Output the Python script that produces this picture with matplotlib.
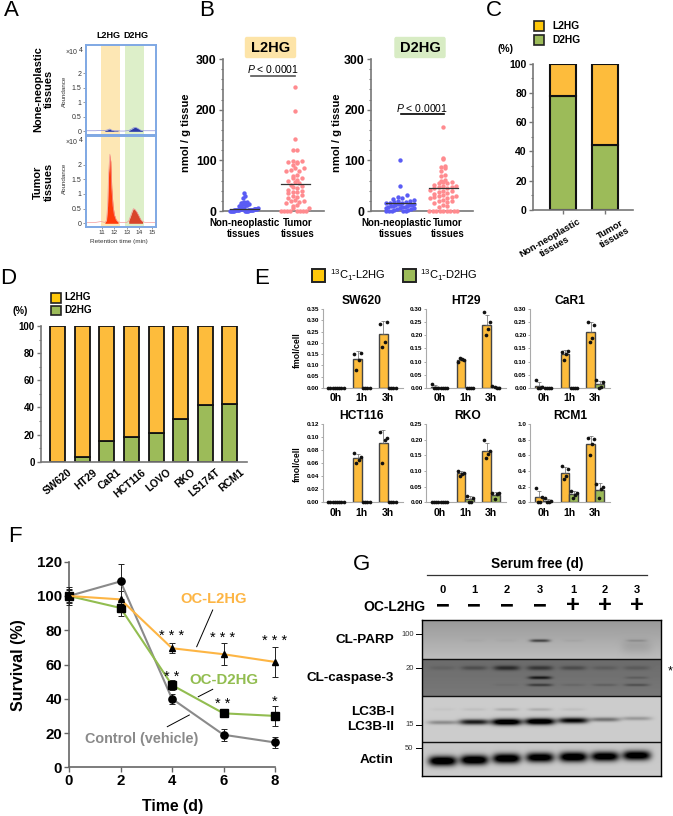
import numpy as np
import matplotlib
matplotlib.use("Agg")
import matplotlib.pyplot as plt
from matplotlib.lines import Line2D
from matplotlib.patches import Rectangle, FancyBboxPatch

plt.rcParams['font.family'] = ['Liberation Sans', 'DejaVu Sans']
plt.rcParams['mathtext.fontset'] = 'custom'
plt.rcParams['mathtext.rm'] = 'Liberation Sans'
plt.rcParams['mathtext.it'] = 'Liberation Sans:italic'
plt.rcParams['mathtext.bf'] = 'Liberation Sans:bold'

W, H = 673, 816

# A: chromatograms
rt = [9.75, 10.5, 10.95, 11.25, 11.38, 11.47, 11.55, 11.65, 11.72, 11.8, 11.9, 12.0, 12.15, 12.3, 12.5, 12.8,
      13.0, 13.15, 13.3, 13.42, 13.52, 13.65, 13.8, 13.95, 14.1, 14.25, 14.45, 15.32]
tumor_abund = [0.02, 0.03, 0.06, 0.03, 0.1, 0.6, 1.7, 2.35, 2.1, 1.2, 0.6, 0.3, 0.12, 0.05, 0.03, 0.02,
               0.03, 0.08, 0.25, 0.4, 0.5, 0.47, 0.38, 0.26, 0.13, 0.06, 0.03, 0.02]
normal_abund = [0.02, 0.02, 0.03, 0.03, 0.04, 0.05, 0.07, 0.08, 0.06, 0.04, 0.03, 0.02, 0.02, 0.02, 0.01, 0.01,
                0.02, 0.03, 0.06, 0.09, 0.12, 0.14, 0.12, 0.08, 0.04, 0.02, 0.02, 0.02]

# B: tissue concentrations
l2hg_normal = [36, 30, 25, 18, 17, 16, 15, 15, 14, 13, 13, 12, 12, 11, 10, 5, 5, 5, 4, 4, 4, 4, 3, 3, 3, 3, 3,
               2, 2, 2, 2, 2, 2, 1, 1, 1, 1, 1, 1, 0, 0, 0, 0, 0, 0, 0, 0, 0]
l2hg_tumor = [245, 198, 142, 120, 120, 98, 98, 97, 96, 95, 90, 85, 85, 80, 78, 78, 72, 70, 65, 65, 62, 60, 58,
              55, 52, 50, 48, 45, 42, 40, 38, 38, 35, 32, 30, 28, 25, 22, 20, 20, 18, 15, 12, 10, 5, 5,
              0, 0, 0, 0, 0, 0, 0, 0]
d2hg_normal = [100, 50, 32, 28, 25, 24, 22, 20, 20, 18, 17, 16, 15, 15, 14, 14, 13, 12, 12, 11, 10, 10, 9, 8, 8,
               7, 6, 5, 5, 4, 3, 2, 1, 0, 0, 0, 0, 0]
d2hg_tumor = [165, 105, 103, 88, 87, 85, 78, 72, 70, 62, 60, 58, 57, 55, 55, 52, 50, 50, 48, 47, 45, 45, 42, 40,
              40, 38, 35, 33, 32, 30, 30, 28, 27, 25, 25, 22, 20, 20, 18, 15, 12, 10, 8, 0, 0, 0, 0, 0, 0, 0, 0, 0]
l2hg_medians = [3, 54]
d2hg_medians = [15, 45]

# C: tissue share
c_groups = ['Non-neoplastic\ntissues', 'Tumor\ntissues']
c_d2hg = [78, 44.5]

# D: cell line share
d_lines = ['SW620', 'HT29', 'CaR1', 'HCT116', 'LOVO', 'RKO', 'LS174T', 'RCM1']
d_d2hg = [0, 3.5, 15.5, 18.5, 21.5, 31.5, 41.5, 42.5]

# E: labelled metabolite, four replicates per time point
hours = ['0h', '1h', '3h']
sw620_l = [[0, 0, 0, 0], [.15, .155, .125, .08], [.285, .295, .205, .18]]
sw620_d = [[0, 0, 0, 0], [0, 0, 0, 0], [0, 0, 0, 0]]
ht29_l = [[.015, 0, 0, 0], [.10, .105, .11, .115], [.288, .25, .225, .20]]
ht29_d = [[0, 0, 0, 0], [0, 0, 0, 0], [.005, 0, 0, .002]]
car1_l = [[.03, .003, 0, 0], [.135, .14, .13, .105], [.25, .24, .19, .175]]
car1_d = [[0, 0, 0, 0], [0, 0, 0, 0], [.03, .02, .002, 0]]
hct116_l = [[0, 0, 0, 0], [.075, .07, .065, .06], [.108, .098, .095, .06]]
hct116_d = [[0, 0, 0, 0], [0, 0, 0, 0], [0, 0, 0, 0]]
rko_l = [[0, 0, 0, 0], [.10, .095, .09, .085], [.20, .165, .155, .14]]
rko_d = [[0, 0, 0, 0], [.022, .015, .002, 0], [.03, .03, .028, .012]]
rcm1_l = [[.18, .07, 0, 0], [.46, .42, .34, .30], [.82, .81, .74, .61]]
rcm1_d = [[.05, .02, 0, 0], [.15, .12, .1, .06], [.23, .2, .17, .05]]

# F: survival
days = [0, 2, 4, 6, 8]
control = [100, 108.5, 40, 19, 14.5]
control_err = [5, 10, 3, 3.5, 3]
oc_l2hg = [100, 98, 69.5, 66, 61.5]
oc_l2hg_err = [4, 5, 3, 6.5, 9]
oc_d2hg = [100, 93, 48, 31.5, 30]
oc_d2hg_err = [3.5, 4.5, 3, 2, 6]

# G: band strength per lane
serum_days = ['0', '1', '2', '3', '1', '2', '3']
oc_signs = ['\u2212', '\u2212', '\u2212', '\u2212', '+', '+', '+']
parp_band = [0, .02, .02, .4, .03, 0, .1]
parp_smudge = [0, 0, 0, 0, 0, 0, .06]
casp_top = [.05, .13, .27, .22, .14, .07, .08]
casp_mid = [0, 0, 0, .35, 0, 0, .08]
casp_low = [0, 0, .03, .22, .05, .08, .14]
lc3_1 = [.03, .05, .12, .12, .05, 0, 0]
lc3_2 = [.25, .7, 1.0, 1.0, .8, .35, .2]
actin = [1, 1, 1, .95, 1, .95, .95]

ORANGE = '#fdbc3c'
YELLOW = '#ffc80a'
GREEN = '#9cbb59'
BLUE = '#5a5cf5'
PINK = '#ff8b8f'
AXGRAY = '#777777'
DARK = '#222222'

fig = plt.figure(figsize=(W / 100, H / 100), dpi=100)


def ax_px(x0, y0, x1, y1):
    return fig.add_axes([x0 / W, 1 - y1 / H, (x1 - x0) / W, (y1 - y0) / H])


def txt(x, y, s, size=8, weight='bold', color='black', ha='center', va='center', **kw):
    return fig.text(x / W, 1 - y / H, s, fontsize=size, fontweight=weight, color=color, ha=ha, va=va, **kw)


def line_px(x0, y0, x1, y1, color='black', lw=1.0):
    fig.add_artist(Line2D([x0 / W, x1 / W], [1 - y0 / H, 1 - y1 / H], color=color, lw=lw))


def box_px(x0, y0, x1, y1, face, edge=DARK, lw=1.2):
    fig.add_artist(Rectangle((x0 / W, 1 - y1 / H), (x1 - x0) / W, (y1 - y0) / H, transform=fig.transFigure,
                             facecolor=face, edgecolor=edge, lw=lw))


def clean(ax, lw=1.2, color=AXGRAY):
    ax.spines['top'].set_visible(False)
    ax.spines['right'].set_visible(False)
    ax.spines['left'].set_linewidth(lw)
    ax.spines['bottom'].set_linewidth(lw)
    ax.spines['left'].set_color(color)
    ax.spines['bottom'].set_color(color)
    ax.patch.set_alpha(0)


for s, x, y in [('A', 11, 11), ('B', 207, 10), ('C', 494, 10), ('D', 8, 278), ('E', 262, 278), ('F', 15, 536),
                ('G', 361, 565)]:
    txt(x, y, s, size=16, weight='normal')

# ---- A
for box, abund, col_l, col_d, base in [((86, 45, 156, 135), normal_abund, '#2b3aa8', '#2b3aa8', '#8c8fd8'),
                                       ((86, 136, 156, 227), tumor_abund, '#ff3b0a', '#d8452a', '#f49a9a')]:
    ax = ax_px(*box)
    ax.axvspan(10.95, 12.45, color='#fde7b4', lw=0)
    ax.axvspan(12.83, 14.35, color='#ddefc9', lw=0)
    r = np.array(rt)
    a = np.array(abund)
    ax.fill_between(r, 0, a, where=(r > 11.2) & (r < 12.5), color=col_l, lw=0)
    ax.fill_between(r, 0, a, where=(r > 13.0) & (r < 14.3), color=col_d, lw=0)
    ax.plot(r, a, color=base, lw=0.5)
    ax.set_xlim(9.75, 15.32)
    ax.set_ylim(-0.126, 2.97)
    ax.set_yticks([0, 0.5, 1, 1.5, 2])
    ax.set_yticklabels(['0', '0.5', '1', '1.5', '2'], fontsize=5, color='#333333')
    ax.set_yticks(np.arange(0, 2.8, 0.1), minor=True)
    ax.tick_params(axis='y', which='major', length=2, width=0.4, pad=1.5, color='#555555')
    ax.tick_params(axis='y', which='minor', length=1, width=0.3, color='#555555')
    for sp in ax.spines.values():
        sp.set_color('#7fa8e4')
        sp.set_linewidth(1.4)
    if box[1] > 100:
        ax.set_xticks([11, 12, 13, 14, 15])
        ax.set_xticklabels(['11', '12', '13', '14', '15'], fontsize=4.6, color='#333333')
        ax.tick_params(axis='x', length=1.5, width=0.4, pad=0.5, color='#555555')
    else:
        ax.set_xticks([])
txt(108, 36, 'L2HG', size=6.5)
txt(135.5, 36, 'D2HG', size=6.5)
txt(77, 52, '\u00d710', size=5, weight='normal', color='#333333', ha='right')
txt(81, 50, '4', size=5, weight='normal', color='#333333')
txt(77, 143, '\u00d710', size=5, weight='normal', color='#333333', ha='right')
txt(81, 141, '4', size=5, weight='normal', color='#333333')
txt(64.5, 91, 'Abundance', size=4.5, weight='normal', color='#333333', rotation=90)
txt(64.5, 178, 'Abundance', size=4.5, weight='normal', color='#333333', rotation=90)
txt(119, 241, 'Retention time (min)', size=4.6, weight='normal', color='#333333')
txt(43.5, 89, 'None-neoplastic\ntissues', size=7.9, rotation=90, linespacing=1.15)
txt(43.5, 182, 'Tumor\ntissues', size=7.9, rotation=90, linespacing=1.15)


# ---- B
def swarm(values, step_upper=4.4, bin_size=9, step=4.4, half=14):
    # rows of evenly spread points, the way the original plotting program lays them out
    vals = np.array(sorted(values), dtype=float)
    rows = np.floor((vals + bin_size / 3) / bin_size).astype(int)
    offs = np.zeros(len(vals))
    for r in np.unique(rows):
        idx = np.where(rows == r)[0]
        gap = step if r == 0 else step_upper
        w = min(half, (len(idx) - 1) * gap / 2)
        if len(idx) > 1:
            spread = np.linspace(-w, w, len(idx))
            order = np.concatenate([np.arange(0, len(idx), 2), np.arange(1, len(idx), 2)])
            offs[idx[order]] = spread
    return vals, offs


for box, cx, label_x, title, tcol, tx, normal, tumor, meds, px_line, pcol, ylab_x, gaps in [
    ((222.7, 59, 324, 211), (244, 295), (244, 297.5), 'L2HG', '#fde4a8', 270.5, l2hg_normal, l2hg_tumor, l2hg_medians,
     (251, 295, 75.7), '#555555', 186, (1.6, 4.4)),
    ((371, 59, 472.7, 211), (400, 443), (396, 448), 'D2HG', '#d8ecc4', 420, d2hg_normal, d2hg_tumor, d2hg_medians,
     (400.5, 443.5, 114), 'black', 337, (4.4, 4.4)),
]:
    ax = ax_px(*box)
    ax.set_xlim(box[0], box[2])
    ax.set_ylim(0, 300)
    for c, vals, col, m, gap in zip(cx, (normal, tumor), (BLUE, PINK), meds, gaps):
        ys, offs = swarm(vals, step_upper=gap)
        ax.scatter(c + offs, ys, s=10, color=col, lw=0, clip_on=False, zorder=3)
        ax.plot([c - 14.5, c + 14.5], [m, m], color='#333333', lw=0.9, zorder=4)
    clean(ax, 1.2)
    ax.set_xticks([])
    ax.set_yticks([0, 100, 200, 300])
    ax.set_yticks(np.arange(0, 301, 20), minor=True)
    ax.set_yticklabels(['0', '100', '200', '300'], fontsize=8.8, fontweight='bold')
    ax.tick_params(axis='y', which='major', length=3, width=1, color=AXGRAY, pad=1.5)
    ax.tick_params(axis='y', which='minor', length=1.5, width=0.8, color=AXGRAY)
    fig.add_artist(FancyBboxPatch(((tx - 25) / W, 1 - 57.5 / H), 50 / W, 20 / H, boxstyle='round,pad=0,rounding_size=0.002',
                                  transform=fig.transFigure, facecolor=tcol, edgecolor=tcol, lw=1))
    txt(tx, 48, title, size=10.5)
    line_px(px_line[0], px_line[2], px_line[1], px_line[2], color=pcol, lw=1.2)
    txt((px_line[0] + px_line[1]) / 2, px_line[2] - 6.5, r'$\mathit{P}$ < 0.0001', size=7.5, weight='normal')
    txt(ylab_x, 133, 'nmol / g tissue', size=8, rotation=90)
    txt(label_x[0], 223, 'Non-neoplastic', size=7)
    txt(label_x[0], 234, 'tissues', size=7)
    txt(label_x[1], 223, 'Tumor', size=7)
    txt(label_x[1], 234, 'tissues', size=7)

# ---- C
ax = ax_px(533, 63.5, 633, 210)
ax.set_xlim(533, 633)
ax.set_ylim(0, 100)
bar_x = [563, 605]
ax.bar(bar_x, c_d2hg, width=26, color=GREEN, edgecolor='#111111', lw=1.5)
ax.bar(bar_x, 100 - np.array(c_d2hg), bottom=c_d2hg, width=26, color=ORANGE, edgecolor='#111111', lw=1.5)
clean(ax, 1.2)
ax.set_xticks(bar_x)
ax.set_xticklabels([])
ax.set_yticks(np.arange(0, 101, 20))
ax.set_yticks(np.arange(0, 101, 10), minor=True)
ax.set_yticklabels([str(v) for v in range(0, 101, 20)], fontsize=7.5, fontweight='bold')
ax.tick_params(axis='both', which='major', length=3, width=1, color=AXGRAY, pad=1.5)
ax.tick_params(axis='y', which='minor', length=1.5, width=0.8, color=AXGRAY)
txt(577, 217, c_groups[0], size=6.8, rotation=30, ha='right', va='top', rotation_mode='anchor', multialignment='center')
txt(622, 217, c_groups[1], size=6.8, rotation=30, ha='right', va='top', rotation_mode='anchor', multialignment='center')
box_px(533.5, 20.5, 544, 31, YELLOW)
box_px(533.5, 34.5, 544, 45, GREEN)
txt(552, 26, 'L2HG', size=7.4, ha='left')
txt(552, 40, 'D2HG', size=7.4, ha='left')
txt(505, 49, '(%)', size=7.5)

# ---- D
ax = ax_px(41, 326, 246.7, 461.7)
ax.set_xlim(41, 246.7)
ax.set_ylim(0, 100)
bar_x = 57.7 + 24.6 * np.arange(len(d_lines))
ax.bar(bar_x, d_d2hg, width=15, color=GREEN, edgecolor='#111111', lw=1.3)
ax.bar(bar_x, 100 - np.array(d_d2hg), bottom=d_d2hg, width=15, color=ORANGE, edgecolor='#111111', lw=1.3)
clean(ax, 1.2)
ax.set_xticks([])
ax.set_yticks(np.arange(0, 101, 20))
ax.set_yticks(np.arange(0, 101, 10), minor=True)
ax.set_yticklabels([str(v) for v in range(0, 101, 20)], fontsize=7, fontweight='bold')
ax.tick_params(axis='y', which='major', length=3, width=1, color=AXGRAY, pad=1.5)
ax.tick_params(axis='y', which='minor', length=1.5, width=0.8, color=AXGRAY)
for x, name in zip(bar_x, d_lines):
    txt(x + 10, 467, name, size=7.5, rotation=40, ha='right', va='top', rotation_mode='anchor')
box_px(50.5, 292.5, 60.5, 302.5, YELLOW)
box_px(50.5, 305.5, 60.5, 315, GREEN)
txt(64, 297.5, 'L2HG', size=7.2, ha='left')
txt(64, 310, 'D2HG', size=7.2, ha='left')
txt(20, 311, '(%)', size=7)

# ---- E
e_panels = [
    ('SW620', sw620_l, sw620_d, 322.7, 309.3, 0.35, 0.05, 2, 362),
    ('HT29', ht29_l, ht29_d, 426, 309.3, 0.30, 0.05, 2, 466),
    ('CaR1', car1_l, car1_d, 530, 309.3, 0.30, 0.05, 2, 570),
    ('HCT116', hct116_l, hct116_d, 322.7, 424, 0.12, 0.02, 2, 362),
    ('RKO', rko_l, rko_d, 426, 424, 0.25, 0.05, 2, 468),
    ('RCM1', rcm1_l, rcm1_d, 530, 424, 1.0, 0.2, 1, 570),
]
point_off = [-0.12, 0.14, 0.04, -0.04]
for name, l_vals, d_vals, x0, y0, top, step, dec, title_x in e_panels:
    ax = ax_px(x0, y0, x0 + 80, y0 + 78.4)
    ax.set_xlim(-0.51, 2.57)
    ax.set_ylim(0, top)
    for vals, off, col in [(l_vals, -0.17, ORANGE), (d_vals, 0.17, GREEN)]:
        for i, rep in enumerate(vals):
            m = np.mean(rep)
            sd = np.std(rep, ddof=1)
            ax.bar(i + off, m, width=0.33, color=col, edgecolor='#444444', lw=1.0, zorder=2)
            if m > 0:
                ax.errorbar(i + off, m, yerr=[[0], [sd]], color='#666666', lw=0.5, capsize=1.5, capthick=0.5, zorder=3)
            ax.scatter(i + off + np.array(point_off), rep, s=7, color='#111111', lw=0, zorder=4, clip_on=False)
    clean(ax, 0.8, '#aaaaaa')
    ax.set_xticks([0, 1, 2])
    ax.set_xticklabels(hours, fontsize=7.5, fontweight='bold')
    ticks = np.arange(0, top + step / 2, step)
    ax.set_yticks(ticks)
    ax.set_yticklabels(['%.*f' % (dec, t) for t in ticks], fontsize=4.6, fontweight='bold')
    ax.tick_params(axis='y', length=1.5, width=0.5, color='#888888', pad=1)
    ax.tick_params(axis='x', length=0, pad=4)
    txt(title_x, y0 - 8, name, size=8.7)
txt(297, 350, 'fmol/cell', size=6.3, rotation=90)
txt(297, 464, 'fmol/cell', size=6.3, rotation=90)
box_px(312, 268.5, 325, 281.5, YELLOW, lw=1.4)
box_px(403, 268.5, 416, 281.5, GREEN, lw=1.4)
txt(330, 275.5, r'$^{13}$C$_{1}$-L2HG', size=8, weight='normal', ha='left')
txt(420, 275.5, r'$^{13}$C$_{1}$-D2HG', size=8, weight='normal', ha='left')

# ---- F
ax = ax_px(69, 561.7, 275, 767.3)
ax.set_xlim(0, 8)
ax.set_ylim(0, 120)
for vals, err, col, mk, ms in [(control, control_err, '#8a8a8a', 'o', 5.2),
                               (oc_d2hg, oc_d2hg_err, '#92bd50', 's', 5.2),
                               (oc_l2hg, oc_l2hg_err, '#fdb544', '^', 5)]:
    ax.errorbar(days, vals, yerr=err, color=col, lw=1.5, ecolor='#222222', elinewidth=0.7, capsize=2.5, capthick=0.7,
                marker=mk, ms=ms, mfc='black', mec='black', clip_on=False, zorder=3)
clean(ax, 1.2, '#666666')
ax.set_xticks(days)
ax.set_xticklabels([str(d) for d in days], fontsize=10.8, fontweight='bold')
ax.set_yticks(np.arange(0, 121, 20))
ax.set_yticklabels([str(v) for v in range(0, 121, 20)], fontsize=10.8, fontweight='bold')
ax.tick_params(axis='both', length=3.5, width=1, color='#666666', pad=1.5)
txt(173, 806.5, 'Time (d)', size=11.4)
txt(19, 665, 'Survival (%)', size=11.5, rotation=90)
txt(214, 599, 'OC-L2HG', size=10.6, color='#fdb544')
txt(224, 680.5, 'OC-D2HG', size=10.8, color='#92bd50')
txt(142, 739, 'Control (vehicle)', size=10.4, color='#8a8a8a')
line_px(212.7, 610, 196.7, 646.7, lw=0.7)
line_px(212.7, 689.3, 198.3, 696.7, lw=0.7)
line_px(189.3, 715, 167.3, 726.7, lw=0.7)
for x, y, s in [(172, 636, '* * *'), (223, 638, '* * *'), (274.7, 641, '* * *'), (172, 677, '* *'), (223, 704, '* *'),
                (275, 702, '*')]:
    txt(x, y, s, size=10.5, weight='normal')

# ---- G
lanes = np.array([442.7, 474.3, 506.7, 540, 573.3, 605, 636.7])
gx, gy = np.meshgrid(np.arange(422, 661) + 0.5, np.arange(620, 776) + 0.5)
blot = np.ones_like(gx)
for y0, y1, g0, g1 in [(620, 659, .60, .74), (659, 696, .42, .47), (696, 742, .80, .80), (742, 776, .78, .80)]:
    m = (gy >= y0) & (gy < y1)
    blot[m] = (g0 + (g1 - g0) * (gy - y0) / (y1 - y0))[m]


def add_bands(levels, ys, half_w, half_h):
    global blot
    for c, lv, y in zip(lanes, levels, ys):
        hh = half_h * (0.55 + 0.55 * lv)
        blot = blot - lv * np.exp(-((gx - c) / half_w) ** 4 - ((gy - y) / hh) ** 2)


add_bands(parp_band, [640.7] * 7, 10, 2)
add_bands(parp_smudge, [647] * 7, 15, 12)
add_bands(casp_top, [668] * 7, 13, 3.5)
add_bands(casp_mid, [677.7] * 7, 11.5, 2.2)
add_bands(casp_low, [685] * 7, 12.5, 2.2)
add_bands(lc3_1, [709.5] * 7, 12, 2.5)
add_bands(lc3_2, [722.5, 722, 722, 721.5, 720.5, 719.5, 718.5], 15, 3)
add_bands(actin, [761, 760, 758.5, 757.5, 757, 756.5, 755.5], 14, 4.5)
ax = ax_px(422, 620, 661, 776)
ax.imshow(np.clip(blot, 0, 1), cmap='gray', vmin=0, vmax=1, extent=(422, 661, 776, 620), aspect='auto',
          interpolation='bilinear')
ax.set_xticks([])
ax.set_yticks([])
for sp in ax.spines.values():
    sp.set_linewidth(1)
for y in [659, 696, 742]:
    ax.axhline(y, color='#111111', lw=1)
txt(536.7, 564, 'Serum free (d)', size=9.8)
line_px(426.7, 574.7, 646.7, 574.7, color='#333333', lw=0.9)
for c, d, sgn in zip(lanes, serum_days, oc_signs):
    txt(c, 590, d, size=8)
    txt(c, 606, sgn, size=17)
txt(426, 607, 'OC-L2HG', size=10, ha='right')
for y, s in [(640, 'CL-PARP'), (678, 'CL-caspase-3'), (712, 'LC3B-I'), (727, 'LC3B-II'), (760, 'Actin')]:
    txt(394, y, s, size=9.7, ha='right')
for y, s in [(634, '100'), (668, '20'), (725, '15'), (748, '50')]:
    txt(413.5, y, s, size=5.5, weight='normal', color='#333333', ha='right')
    line_px(416, y, 422, y, lw=0.7)
txt(670, 671, '*', size=9, weight='normal')

fig.savefig('out.png', dpi=100)
